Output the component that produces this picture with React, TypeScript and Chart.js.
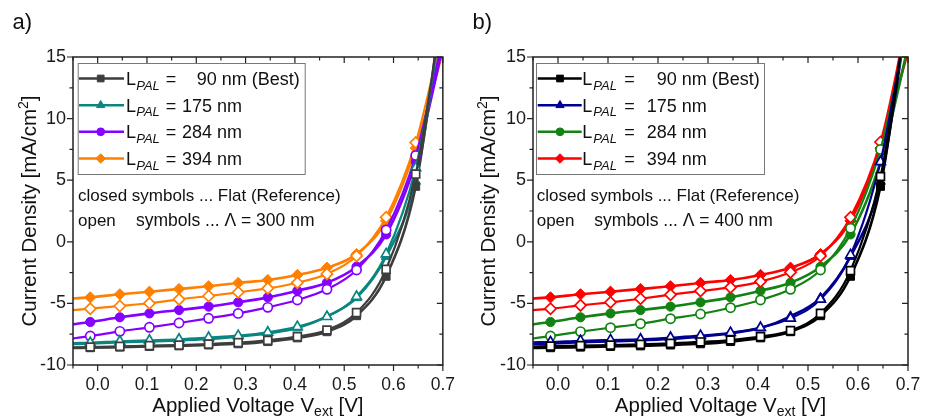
import React, { useEffect, useRef } from 'react';
import { Chart, registerables } from 'chart.js';

Chart.register(...registerables);

// ---------------- data ----------------
// Applied voltage [V]; first and last two entries are curve-only points (no marker)
const VOLTAGE = [-0.05, -0.015, 0.045, 0.105, 0.165, 0.225, 0.285, 0.345, 0.405, 0.465, 0.525, 0.585, 0.645, 0.675, 0.705];
const FIRST_MARKER = 1;
const LAST_MARKER = 12;

// closed symbols: flat reference (same in both panels) [mA/cm²]
const J90_FLAT = [-8.62, -8.6, -8.55, -8.5, -8.45, -8.38, -8.28, -8.1, -7.8, -7.3, -6.0, -2.8, 4.5, 12.3, 22];
const J175_FLAT = [-8.3, -8.25, -8.15, -8.08, -8.0, -7.88, -7.7, -7.42, -7.0, -6.05, -4.55, -1.2, 4.9, 12.0, 20.5];
const J284_FLAT = [-6.7, -6.51, -6.13, -5.81, -5.54, -5.26, -4.91, -4.51, -3.97, -3.32, -2.02, 0.6, 6.5, 11.4, 16.8];
const J394_FLAT = [-4.6, -4.51, -4.26, -4.05, -3.83, -3.61, -3.34, -3.1, -2.69, -2.1, -1.0, 1.7, 7.6, 11.8, 16.2];

// open symbols, panel a): Λ = 300 nm
const J90_300 = [-8.57, -8.54, -8.49, -8.43, -8.38, -8.3, -8.19, -8.0, -7.7, -7.16, -5.75, -2.23, 5.5, 12.6, 21];
const J175_300 = [-8.22, -8.19, -8.08, -8.0, -7.92, -7.78, -7.62, -7.35, -6.89, -6.08, -4.45, -0.99, 6.0, 12.4, 20];
const J284_300 = [-7.85, -7.65, -7.27, -6.94, -6.59, -6.21, -5.81, -5.32, -4.72, -3.86, -2.29, 0.96, 7.0, 12.0, 17.5];
const J394_300 = [-5.55, -5.43, -5.21, -4.99, -4.67, -4.4, -4.1, -3.78, -3.32, -2.61, -1.15, 1.99, 8.05, 12.8, 18];

// open symbols, panel b): Λ = 400 nm
const J90_400 = [-8.5, -8.46, -8.43, -8.38, -8.32, -8.24, -8.13, -7.97, -7.7, -7.21, -5.81, -2.34, 5.3, 12.4, 21];
const J175_400 = [-8.16, -8.13, -8.03, -7.97, -7.92, -7.78, -7.62, -7.38, -6.97, -6.21, -4.67, -1.07, 6.5, 12.8, 20];
const J284_400 = [-7.85, -7.65, -7.29, -6.97, -6.65, -6.24, -5.86, -5.35, -4.72, -3.86, -2.29, 1.09, 7.5, 12.8, 19];
const J394_400 = [-5.55, -5.43, -5.16, -4.91, -4.62, -4.29, -3.99, -3.7, -3.23, -2.48, -1.15, 1.99, 8.1, 13.4, 20];

const LEGEND_VALUES = ['90 nm (Best)', '175 nm', '284 nm', '394 nm'];
const X_MAJOR = [0, 0.1, 0.2, 0.3, 0.4, 0.5, 0.6, 0.7];
const X_MINOR = [-0.05, 0.05, 0.15, 0.25, 0.35, 0.45, 0.55, 0.65];
const Y_MAJOR = [-10, -5, 0, 5, 10, 15];
const Y_MINOR = [-7.5, -2.5, 2.5, 7.5, 12.5];

const COLORS_A = ['#3d3d3d', '#0b8582', '#8400ff', '#ff8000'];
const COLORS_B = ['#000000', '#000090', '#128212', '#ff0000'];

// ---------------- styling ----------------
const FONT = '"Liberation Sans", Arial, Helvetica, sans-serif';
const POINT_STYLES = ['rect', 'triangle', 'circle', 'rectRot'];
const POINT_RADII = [5.6, 5.6, 4.6, 5.6];

type Panel = {
  label: string;
  lambda: string;
  colors: string[];
  open: number[][];
  closed: number[][];
  canvasW: number;
  chartLeft: number;
  chartRight: number;
  yTitleBase: number;
  legendDx: number;
  legendW: number;
  lx: { line0: number; line1: number; mark: number; L: number; sub: number; eq: number; v0: number; v: number };
  noteDx: number;
  noteSymDx: number;
};

const PANELS: Panel[] = [
  {
    label: 'a)', lambda: '300', colors: COLORS_A,
    open: [J90_300, J175_300, J284_300, J394_300],
    closed: [J90_FLAT, J175_FLAT, J284_FLAT, J394_FLAT],
    canvasW: 465, chartLeft: 73, chartRight: 450, yTitleBase: 36,
    legendDx: 4.7, legendW: 227,
    lx: { line0: 1.3, line1: 46.3, mark: 23, L: 48.3, sub: 58.5, eq: 88, v0: 119, v: 104.3 },
    noteDx: 5, noteSymDx: 63,
  },
  {
    label: 'b)', lambda: '400', colors: COLORS_B,
    open: [J90_400, J175_400, J284_400, J394_400],
    closed: [J90_FLAT, J175_FLAT, J284_FLAT, J394_FLAT],
    canvasW: 470, chartLeft: 68, chartRight: 443, yTitleBase: 30,
    legendDx: 3, legendW: 228,
    lx: { line0: 1.7, line1: 45.7, mark: 24, L: 46.3, sub: 57.3, eq: 88.3, v0: 120.7, v: 110.7 },
    noteDx: 3.7, noteSymDx: 61.3,
  },
];

const CHART_TOP = 57;
const CHART_BOTTOM = 365;
const H = 417;

function drawMarker(ctx: CanvasRenderingContext2D, style: string, r: number, x: number, y: number, fill: string, stroke: string) {
  ctx.beginPath();
  if (style === 'rect') {
    const s = r * Math.SQRT1_2;
    ctx.rect(x - s, y - s, 2 * s, 2 * s);
  } else if (style === 'rectRot') {
    ctx.moveTo(x, y - r); ctx.lineTo(x + r, y); ctx.lineTo(x, y + r); ctx.lineTo(x - r, y); ctx.closePath();
  } else if (style === 'circle') {
    ctx.arc(x, y, r, 0, Math.PI * 2);
  } else {
    let a = -Math.PI / 2;
    ctx.moveTo(x + Math.cos(a) * r, y + Math.sin(a) * r);
    a += (2 * Math.PI) / 3; ctx.lineTo(x + Math.cos(a) * r, y + Math.sin(a) * r);
    a += (2 * Math.PI) / 3; ctx.lineTo(x + Math.cos(a) * r, y + Math.sin(a) * r);
    ctx.closePath();
  }
  ctx.fillStyle = fill; ctx.fill();
  ctx.strokeStyle = stroke; ctx.lineWidth = 1; ctx.stroke();
}

function makeDecor(p: Panel) {
  return {
    id: 'decor' + p.label,
    afterDraw(chart: any) {
      const ctx: CanvasRenderingContext2D = chart.ctx;
      const a = chart.chartArea;
      const xs = chart.scales.x;
      const ys = chart.scales.y;
      ctx.save();
      // ticks
      ctx.strokeStyle = '#222';
      ctx.lineWidth = 1.2;
      ctx.beginPath();
      const tickX = (v: number, len: number) => {
        const px = xs.getPixelForValue(v);
        ctx.moveTo(px, a.bottom); ctx.lineTo(px, a.bottom + len);
        ctx.moveTo(px, a.top); ctx.lineTo(px, a.top + len);
      };
      const tickY = (v: number, len: number) => {
        const py = ys.getPixelForValue(v);
        ctx.moveTo(a.left, py); ctx.lineTo(a.left - len, py);
        ctx.moveTo(a.right, py); ctx.lineTo(a.right - len, py);
      };
      X_MAJOR.forEach((v) => tickX(v, 6));
      X_MINOR.forEach((v) => tickX(v, 3.5));
      Y_MAJOR.forEach((v) => tickY(v, 6));
      Y_MINOR.forEach((v) => tickY(v, 3.5));
      ctx.stroke();
      // frame
      ctx.lineWidth = 1.5;
      ctx.strokeRect(a.left, a.top, a.right - a.left, a.bottom - a.top);

      ctx.fillStyle = '#111';
      ctx.textBaseline = 'alphabetic';
      ctx.textAlign = 'left';

      // panel label
      ctx.font = `22px ${FONT}`;
      ctx.fillText(p.label, p.label === 'a)' ? 12.5 : 7.5, 28.5);

      // legend
      const bx = a.left + p.legendDx;
      const by = 63;
      ctx.fillStyle = '#fff';
      ctx.fillRect(bx, by, p.legendW, 111);
      ctx.strokeStyle = '#777';
      ctx.lineWidth = 1;
      ctx.strokeRect(bx + 0.5, by + 0.5, p.legendW, 111);
      const bases = [85, 111.7, 138.3, 165];
      for (let i = 0; i < 4; i++) {
        const base = bases[i];
        const ly = base - 6.5;
        const c = p.colors[i];
        ctx.strokeStyle = c;
        ctx.lineWidth = 2.6;
        ctx.beginPath();
        ctx.moveTo(bx + p.lx.line0, ly); ctx.lineTo(bx + p.lx.line1, ly);
        ctx.stroke();
        drawMarker(ctx, POINT_STYLES[i], POINT_RADII[i] * 0.85, bx + p.lx.mark, ly, c, c);
        ctx.fillStyle = '#111';
        ctx.font = `18px ${FONT}`;
        ctx.fillText('L', bx + p.lx.L, base);
        ctx.font = `italic 13px ${FONT}`;
        ctx.fillText('PAL', bx + p.lx.sub, base + 4.5);
        ctx.font = `18px ${FONT}`;
        ctx.fillText('=', bx + p.lx.eq, base);
        ctx.fillText(LEGEND_VALUES[i], bx + (i === 0 ? p.lx.v0 : p.lx.v), base);
      }

      // notes
      ctx.fillStyle = '#111';
      ctx.font = `17px ${FONT}`;
      ctx.fillText('closed symbols ... Flat (Reference)', a.left + p.noteDx, 201);
      ctx.fillText('open', a.left + p.noteDx, 225.5);
      ctx.font = `17.5px ${FONT}`;
      ctx.fillText(`symbols ... \u039B = ${p.lambda} nm`, a.left + p.noteSymDx, 225.5);

      // x title with subscript
      const TF = 20.5;
      const SF = 14;
      const xa = 'Applied Voltage V';
      const xb = 'ext';
      const xc = ' [V]';
      ctx.font = `${TF}px ${FONT}`;
      const wa = ctx.measureText(xa).width;
      const wc = ctx.measureText(xc).width;
      ctx.font = `${SF}px ${FONT}`;
      const wb = ctx.measureText(xb).width;
      const cx = (a.left + a.right) / 2;
      const sx = cx - (wa + wb + wc) / 2;
      const xBase = 411.5;
      ctx.font = `${TF}px ${FONT}`;
      ctx.fillText(xa, sx, xBase);
      ctx.font = `${SF}px ${FONT}`;
      ctx.fillText(xb, sx + wa, xBase + 4);
      ctx.font = `${TF}px ${FONT}`;
      ctx.fillText(xc, sx + wa + wb, xBase);

      // y title with superscript
      const ya = 'Current Density [mA/cm';
      const yb = '2';
      const yc = ']';
      ctx.font = `${TF}px ${FONT}`;
      const va = ctx.measureText(ya).width;
      const vc = ctx.measureText(yc).width;
      ctx.font = `${SF}px ${FONT}`;
      const vb = ctx.measureText(yb).width;
      ctx.translate(p.yTitleBase, (a.top + a.bottom) / 2);
      ctx.rotate(-Math.PI / 2);
      const sy = -(va + vb + vc) / 2;
      ctx.font = `${TF}px ${FONT}`;
      ctx.fillText(ya, sy, 0);
      ctx.font = `${SF}px ${FONT}`;
      ctx.fillText(yb, sy + va, -8.5);
      ctx.font = `${TF}px ${FONT}`;
      ctx.fillText(yc, sy + va + vb, 0);
      ctx.restore();
    },
  };
}

function buildDatasets(p: Panel) {
  const ds: any[] = [];
  const radiusFn = (r: number) => (c: any) => (c.dataIndex >= FIRST_MARKER && c.dataIndex <= LAST_MARKER ? r : 0);
  for (let i = 0; i < 4; i++) {
    const c = p.colors[i];
    ds.push({
      label: 'flat ' + LEGEND_VALUES[i],
      data: VOLTAGE.map((x, k) => ({ x, y: p.closed[i][k] })),
      borderColor: c,
      backgroundColor: c,
      borderWidth: 2.6,
      pointStyle: POINT_STYLES[i],
      pointRadius: radiusFn(POINT_RADII[i]),
      pointBackgroundColor: c,
      pointBorderColor: c,
      pointBorderWidth: 1,
      cubicInterpolationMode: 'monotone',
      order: 2,
    });
  }
  for (let i = 0; i < 4; i++) {
    const c = p.colors[i];
    ds.push({
      label: 'grating ' + LEGEND_VALUES[i],
      data: VOLTAGE.map((x, k) => ({ x, y: p.open[i][k] })),
      borderColor: c,
      backgroundColor: '#ffffff',
      borderWidth: 2.2,
      pointStyle: POINT_STYLES[i],
      pointRadius: radiusFn(POINT_RADII[i]),
      pointBackgroundColor: '#ffffff',
      pointBorderColor: c,
      pointBorderWidth: 1.7,
      cubicInterpolationMode: 'monotone',
      order: 1,
    });
  }
  return ds;
}

function PanelChart({ p, left }: { p: Panel; left: number }) {
  const ref = useRef<HTMLCanvasElement | null>(null);
  useEffect(() => {
    if (!ref.current) return;
    const tickFont = { family: FONT, size: 18 };
    const chart = new Chart(ref.current, {
      type: 'line',
      data: { datasets: buildDatasets(p) },
      options: {
        animation: false,
        responsive: false,
        maintainAspectRatio: false,
        layout: { padding: { top: CHART_TOP, right: p.canvasW - p.chartRight, left: 0, bottom: 0 } },
        plugins: { legend: { display: false }, tooltip: { enabled: false } },
        scales: {
          x: {
            type: 'linear',
            min: -0.05,
            max: 0.7,
            grid: { display: false, drawTicks: false },
            border: { display: false },
            ticks: { font: { family: FONT, size: 17.5 }, color: '#1a1a1a', padding: 10, maxRotation: 0, callback: (v: any) => Number(v).toFixed(1) },
            afterBuildTicks: (s: any) => { s.ticks = X_MAJOR.map((v) => ({ value: v })); },
            afterFit: (s: any) => { s.height = H - CHART_BOTTOM; },
          },
          y: {
            min: -10,
            max: 15,
            grid: { display: false, drawTicks: false },
            border: { display: false },
            ticks: { font: tickFont, color: '#1a1a1a', padding: 7, callback: (v: any) => String(v) },
            afterBuildTicks: (s: any) => { s.ticks = Y_MAJOR.map((v) => ({ value: v })); },
            afterFit: (s: any) => { s.width = p.chartLeft; },
          },
        },
      } as any,
      plugins: [makeDecor(p)],
    });
    return () => chart.destroy();
  }, [p]);
  return (
    <canvas
      ref={ref}
      width={p.canvasW}
      height={H}
      style={{ position: 'absolute', left, top: 0, width: p.canvasW, height: H, display: 'block' }}
    />
  );
}

export default function App() {
  return (
    <div style={{ position: 'fixed', left: 0, top: 0, width: 935, height: H, background: '#ffffff', overflow: 'hidden' }}>
      <PanelChart p={PANELS[0]} left={0} />
      <PanelChart p={PANELS[1]} left={465} />
    </div>
  );
}
